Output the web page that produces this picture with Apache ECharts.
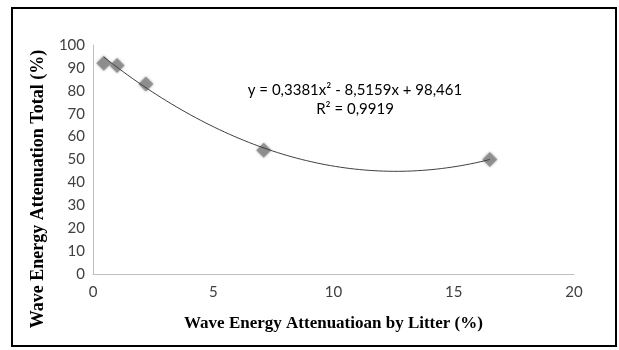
<!DOCTYPE html>
<html>
<head>
<meta charset="utf-8">
<script src="https://cdn.jsdelivr.net/npm/echarts@6/dist/echarts.min.js"></script>
<style>
html,body{margin:0;padding:0;background:#fff;}
#chart{width:619px;height:350px;}
</style>
</head>
<body>
<div id="chart"></div>
<script>
// Data
const litterX = [0.45, 1.0, 2.2, 7.1, 16.5];
const totalY = [92, 91, 83, 54, 50];
// Trendline coefficients shown on the chart: y = a x^2 + b x + c
const trendCoef = [0.3381, -8.5159, 98.461];
const xTicks = [0, 5, 10, 15, 20];
const yTicks = [0, 10, 20, 30, 40, 50, 60, 70, 80, 90, 100];

const trendData = [];
const x0 = litterX[0], x1 = litterX[litterX.length - 1];
for (let i = 0; i <= 80; i++) {
  const x = x0 + (x1 - x0) * i / 80;
  trendData.push([x, trendCoef[0] * x * x + trendCoef[1] * x + trendCoef[2]]);
}

const chart = echarts.init(document.getElementById('chart'));
chart.setOption({
  animation: false,
  backgroundColor: '#fff',
  grid: { left: 93, right: 45, top: 45, bottom: 76 },
  xAxis: {
    type: 'value', min: 0, max: 20, interval: 5,
    splitLine: { show: false },
    axisTick: { show: false },
    axisLine: { lineStyle: { color: '#bfbfbf', width: 1 } },
    axisLabel: { color: '#404040', fontFamily: 'Lato', fontSize: 15, margin: 11 },
    name: 'Wave Energy Attenuatioan by Litter (%)',
    nameLocation: 'middle', nameGap: 41,
    nameTextStyle: { fontFamily: 'Liberation Serif', fontWeight: 'bold', fontSize: 17, color: '#000' }
  },
  yAxis: {
    type: 'value', min: 0, max: 100, interval: 10,
    splitLine: { show: false },
    axisTick: { show: false },
    axisLine: { show: true, lineStyle: { color: '#bfbfbf', width: 1 } },
    axisLabel: { color: '#404040', fontFamily: 'Lato', fontSize: 15, margin: 8 }
  },
  graphic: [
    { type: 'rect', shape: { x: 12, y: 8, width: 604, height: 338 },
      style: { fill: 'none', stroke: '#000', lineWidth: 2 }, z: 100 },
    { type: 'text', x: 38, y: 189, rotation: Math.PI / 2,
      style: { text: 'Wave Energy Attenuation Total (%)', fontFamily: 'Liberation Serif', fontWeight: 'bold', fontSize: 18, fill: '#000', align: 'center', verticalAlign: 'middle' } },
    { type: 'text', x: 355, y: 90,
      style: { text: 'y = 0,3381x² - 8,5159x + 98,461', fontFamily: 'Lato', fontSize: 15, fill: '#000', align: 'center', verticalAlign: 'middle' } },
    { type: 'text', x: 355, y: 109,
      style: { text: 'R² = 0,9919', fontFamily: 'Lato', fontSize: 15, fill: '#000', align: 'center', verticalAlign: 'middle' } }
  ],
  series: [
    {
      type: 'line', data: trendData, showSymbol: false, smooth: false,
      lineStyle: { color: '#404040', width: 1 }, z: 3
    },
    {
      type: 'scatter', data: litterX.map((x, i) => [x, totalY[i]]),
      symbol: 'diamond', symbolSize: 15,
      itemStyle: { color: '#858585', shadowBlur: 3, shadowColor: 'rgba(0,0,0,0.4)' }, z: 2
    }
  ]
});
</script>
</body>
</html>
